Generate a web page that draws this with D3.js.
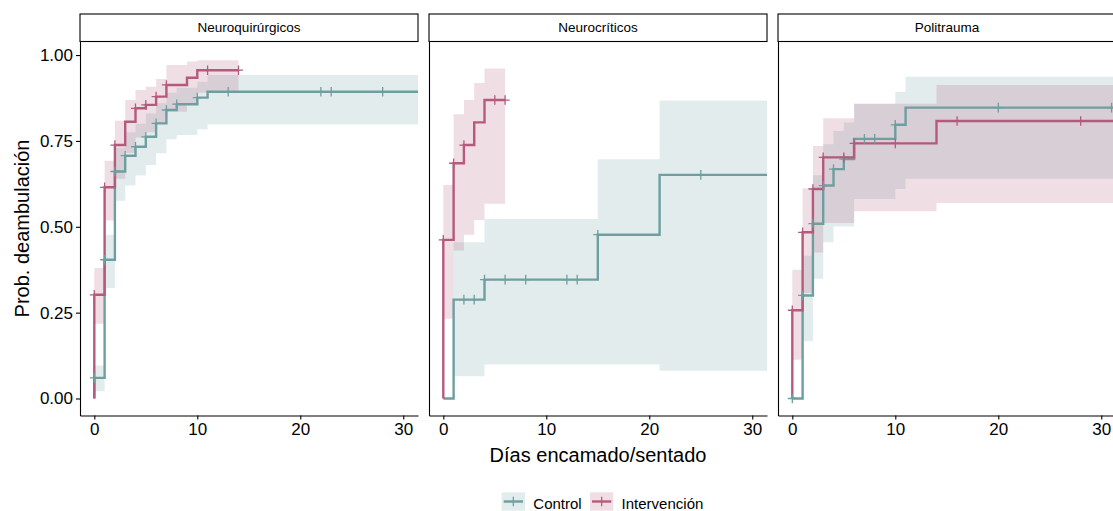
<!DOCTYPE html>
<html><head><meta charset="utf-8">
<script src="https://cdn.jsdelivr.net/npm/d3@7"></script>
<style>
body{margin:0;background:#fff}
svg{display:block}
text{font-family:"Liberation Sans",Arial,Helvetica,sans-serif;fill:#000}
</style>
</head><body>
<svg id="chart" width="1113" height="511"></svg>
<script>
// ---------- data ----------
const panels = ["Neuroquirúrgicos", "Neurocríticos", "Politrauma"];
const groups = ["Control", "Intervención"];
const groupColors = ["#6f9ea1", "#b45a7c"];
const xTicks = [0, 10, 20, 30];
const yTicks = [0, 0.25, 0.5, 0.75, 1];
const xTitle = "Días encamado/sentado";
const yTitle = "Prob. deambulación";

// Neuroquirúrgicos – Control
const nqC_time  = [0, 1, 2, 3, 4, 5, 6, 7, 8, 10, 11];
const nqC_surv  = [0.060, 0.404, 0.661, 0.707, 0.733, 0.762, 0.801, 0.840, 0.857, 0.876, 0.893];
const nqC_lower = [0.021, 0.322, 0.576, 0.620, 0.649, 0.680, 0.714, 0.755, 0.767, 0.784, 0.798];
const nqC_upper = [0.096, 0.477, 0.730, 0.775, 0.800, 0.830, 0.860, 0.890, 0.905, 0.922, 0.942];
const nqC_cens  = [0, 1, 2, 3, 4, 5, 6, 7, 8, 10, 13, 22, 23, 28];
const nqC_end   = 40;
// Neuroquirúrgicos – Intervención
const nqI_time  = [0, 1, 2, 3, 4, 5, 6, 7, 9, 10];
const nqI_surv  = [0.302, 0.615, 0.738, 0.806, 0.845, 0.855, 0.879, 0.913, 0.934, 0.956];
const nqI_lower = [0.218, 0.518, 0.640, 0.715, 0.760, 0.775, 0.800, 0.835, 0.860, 0.890];
const nqI_upper = [0.380, 0.692, 0.809, 0.869, 0.898, 0.908, 0.930, 0.971, 0.981, 0.985];
const nqI_cens  = [0, 1, 2, 4, 5, 6, 7, 11, 14];
const nqI_end   = 14;

// Neurocríticos – Control
const ncC_time  = [0, 1, 4, 15, 21];
const ncC_surv  = [0, 0.288, 0.346, 0.477, 0.651];
const ncC_lower = [0, 0.065, 0.099, 0.099, 0.081];
const ncC_upper = [0, 0.455, 0.523, 0.697, 0.868];
const ncC_cens  = [2, 3, 4, 6, 8, 12, 13, 15, 25];
const ncC_end   = 40;
// Neurocríticos – Intervención
const ncI_time  = [0, 1, 2, 3, 4];
const ncI_surv  = [0.462, 0.685, 0.738, 0.804, 0.869];
const ncI_lower = [0.232, 0.431, 0.477, 0.520, 0.567];
const ncI_upper = [0.622, 0.828, 0.869, 0.919, 0.961];
const ncI_cens  = [0, 1, 2, 5, 6];
const ncI_end   = 6;

// Politrauma – Control
const ptC_time  = [0, 1, 2, 3, 4, 5, 6, 10, 11];
const ptC_surv  = [0, 0.300, 0.509, 0.620, 0.668, 0.697, 0.756, 0.797, 0.847];
const ptC_lower = [0, 0.167, 0.349, 0.455, 0.501, 0.501, 0.581, 0.610, 0.640];
const ptC_upper = [0, 0.416, 0.650, 0.740, 0.779, 0.804, 0.858, 0.893, 0.937];
const ptC_cens  = [0, 1, 2, 3, 4, 5, 7, 8, 10, 20, 31];
const ptC_end   = 40;
// Politrauma – Intervención
const ptI_time  = [0, 1, 2, 3, 6, 14];
const ptI_surv  = [0.257, 0.484, 0.610, 0.702, 0.743, 0.808];
const ptI_lower = [0.113, 0.307, 0.425, 0.511, 0.545, 0.569];
const ptI_upper = [0.375, 0.612, 0.735, 0.816, 0.858, 0.913];
const ptI_cens  = [0, 1, 2, 3, 5, 6, 10, 16, 28];
const ptI_end   = 40;

const series = [
  [ {time: nqC_time, surv: nqC_surv, lower: nqC_lower, upper: nqC_upper, cens: nqC_cens, end: nqC_end},
    {time: nqI_time, surv: nqI_surv, lower: nqI_lower, upper: nqI_upper, cens: nqI_cens, end: nqI_end} ],
  [ {time: ncC_time, surv: ncC_surv, lower: ncC_lower, upper: ncC_upper, cens: ncC_cens, end: ncC_end},
    {time: ncI_time, surv: ncI_surv, lower: ncI_lower, upper: ncI_upper, cens: ncI_cens, end: ncI_end} ],
  [ {time: ptC_time, surv: ptC_surv, lower: ptC_lower, upper: ptC_upper, cens: ptC_cens, end: ptC_end},
    {time: ptI_time, surv: ptI_surv, lower: ptI_lower, upper: ptI_upper, cens: ptI_cens, end: ptI_end} ]
];

// ---------- layout ----------
const svg = d3.select("#chart");
const panelLeft = [80, 429, 778];
const panelW = 338;
const stripTop = 14, panelTop = 41.5, panelBottom = 415.5;

const y = d3.scaleLinear().domain([-0.0495, 1.0395]).range([panelBottom, panelTop]);

panels.forEach((name, pi) => {
  const left = panelLeft[pi];
  const x = d3.scaleLinear().domain([-1.39, 31.43]).range([left, left + panelW]);
  const g = svg.append("g");

  const clipId = "clip" + pi;
  svg.append("clipPath").attr("id", clipId).append("rect")
    .attr("x", left).attr("y", panelTop).attr("width", panelW).attr("height", panelBottom - panelTop);
  const plot = g.append("g").attr("clip-path", `url(#${clipId})`);

  const sData = series[pi].map(s => {
    const pts = s.time.map((t, i) => ({t, s: s.surv[i], lo: s.lower[i], up: s.upper[i]}));
    const last = pts[pts.length - 1];
    pts.push({t: s.end, s: last.s, lo: last.lo, up: last.up});
    return pts;
  });

  // bands
  const area = d3.area().curve(d3.curveStepAfter)
    .x(d => x(d.t)).y0(d => y(d.lo)).y1(d => y(d.up));
  sData.forEach((pts, gi) => {
    plot.append("path").attr("d", area(pts))
      .attr("fill", groupColors[gi]).attr("fill-opacity", 0.2).attr("stroke", "none");
  });

  // step lines
  const line = d3.line().curve(d3.curveStepAfter).x(d => x(d.t)).y(d => y(d.s));
  sData.forEach((pts, gi) => {
    const full = [{t: 0, s: 0}].concat(pts);
    plot.append("path").attr("d", line(full))
      .attr("fill", "none").attr("stroke", groupColors[gi])
      .attr("stroke-width", 2.4).attr("stroke-linejoin", "miter").attr("stroke-linecap", "butt");
  });

  // censor marks
  series[pi].forEach((s, gi) => {
    s.cens.forEach(c => {
      const idx = d3.bisectRight(s.time, c) - 1;
      const v = idx >= 0 ? s.surv[idx] : 0;
      const cx = x(c), cy = y(v);
      plot.append("path")
        .attr("d", `M${cx - 4.5},${cy}H${cx + 4.5}M${cx},${cy - 4.8}V${cy + 4.8}`)
        .attr("stroke", groupColors[gi]).attr("stroke-width", 1.3).attr("fill", "none");
    });
  });

  // x axis
  const xa = g.append("g").attr("transform", `translate(0,${panelBottom})`)
    .call(d3.axisBottom(x).tickValues(xTicks).tickSize(4).tickSizeOuter(0).tickPadding(3).tickFormat(d3.format("d")));
  xa.select(".domain").attr("stroke", "#000").attr("stroke-width", 1.1);
  xa.selectAll(".tick line").attr("stroke", "#000").attr("stroke-width", 1.1);
  xa.selectAll(".tick text").attr("font-size", 17).attr("fill", "#000")
    .attr("font-family", "'Liberation Sans',Arial,sans-serif");

  // y axis
  const ya = g.append("g").attr("transform", `translate(${left},0)`);
  if (pi === 0) {
    ya.call(d3.axisLeft(y).tickValues(yTicks).tickSize(4).tickSizeOuter(0).tickPadding(3).tickFormat(d3.format(".2f")));
  } else {
    ya.call(d3.axisLeft(y).tickValues([]).tickSizeOuter(0));
  }
  ya.select(".domain").attr("stroke", "#000").attr("stroke-width", 1.1);
  ya.selectAll(".tick line").attr("stroke", "#000").attr("stroke-width", 1.1);
  ya.selectAll(".tick text").attr("font-size", 17).attr("fill", "#000")
    .attr("font-family", "'Liberation Sans',Arial,sans-serif");

  // strip
  g.append("rect").attr("x", left).attr("y", stripTop).attr("width", panelW).attr("height", panelTop - stripTop)
    .attr("fill", "#fff").attr("stroke", "#000").attr("stroke-width", 1.1);
  g.append("text").attr("x", left + panelW / 2).attr("y", (stripTop + panelTop) / 2)
    .attr("text-anchor", "middle").attr("dominant-baseline", "central")
    .attr("font-size", 13.5).text(name);
});

// axis titles
svg.append("text").attr("x", 598).attr("y", 455).attr("text-anchor", "middle")
  .attr("dominant-baseline", "central").attr("font-size", 20).text(xTitle);
svg.append("text").attr("transform", `translate(22,${(panelTop + panelBottom) / 2}) rotate(-90)`)
  .attr("text-anchor", "middle").attr("dominant-baseline", "central").attr("font-size", 20).text(yTitle);

// legend
const legX = [501.7, 590];
groups.forEach((gname, gi) => {
  const lx = legX[gi], ly = 492.3, w = 23.3, h = 18.4;
  const lg = svg.append("g");
  lg.append("rect").attr("x", lx).attr("y", ly).attr("width", w).attr("height", h)
    .attr("fill", groupColors[gi]).attr("fill-opacity", 0.2);
  lg.append("path").attr("d", `M${lx + 2},${ly + h / 2}H${lx + w - 2}`)
    .attr("stroke", groupColors[gi]).attr("stroke-width", 2.4);
  lg.append("path").attr("d", `M${lx + w / 2},${ly + h / 2 - 4.8}V${ly + h / 2 + 4.8}`)
    .attr("stroke", groupColors[gi]).attr("stroke-width", 1.3);
  lg.append("text").attr("x", lx + w + 8.3).attr("y", ly + h / 2 + 1.5).attr("dominant-baseline", "central")
    .attr("font-size", 15).text(gname);
});
</script>
</body></html>
